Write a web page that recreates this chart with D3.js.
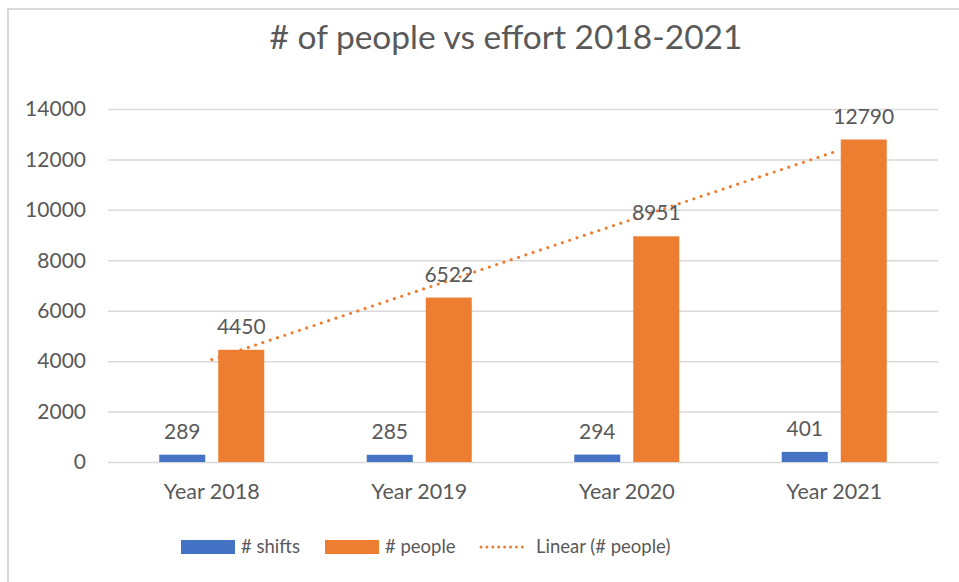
<!DOCTYPE html>
<html>
<head>
<meta charset="utf-8">
<script src="https://cdn.jsdelivr.net/npm/d3@7"></script>
<style>
  body { margin: 0; background: #fff; }
  svg { display: block; font-family: Lato, "Open Sans", sans-serif; }
</style>
</head>
<body>
<svg id="chart"></svg>
<script>
// Data
const categories = ["Year 2018", "Year 2019", "Year 2020", "Year 2021"];
const shifts = [289, 285, 294, 401];
const people = [4450, 6522, 8951, 12790];
const yTicks = [0, 2000, 4000, 6000, 8000, 10000, 12000, 14000];

const width = 959, height = 582;
const margin = { top: 109, right: 21, bottom: 120, left: 108 };
const textColor = "#595959";
const blue = "#4472C4", orange = "#ED7D31";

const svg = d3.select("#chart")
    .attr("width", width)
    .attr("height", height);

// chart border (right/bottom edges fall outside the picture)
svg.append("rect")
    .attr("x", 8).attr("y", 9)
    .attr("width", 960).attr("height", 590)
    .attr("fill", "none")
    .attr("stroke", "#d9d9d9")
    .attr("stroke-width", 2);

// title
svg.append("text")
    .attr("x", 506).attr("y", 49)
    .attr("text-anchor", "middle")
    .style("font-size", "33.5px")
    .style("fill", textColor)
    .text("# of people vs effort 2018-2021");

const x = d3.scaleBand()
    .domain(categories)
    .range([margin.left, width - margin.right]);

const y = d3.scaleLinear()
    .domain([0, 14000])
    .range([height - margin.bottom, margin.top]);

// gridlines + y labels
const yAxis = svg.append("g")
    .attr("transform", `translate(${margin.left},0)`)
    .call(d3.axisLeft(y).tickValues(yTicks).tickSize(-(width - margin.left - margin.right)).tickPadding(22).tickFormat(d3.format("d")));
yAxis.select(".domain").remove();
yAxis.selectAll(".tick line").attr("stroke", "#d9d9d9").attr("stroke-width", 1.5);
yAxis.selectAll(".tick text")
    .style("font-size", "21px")
    .style("fill", textColor)
    .style("font-family", "Lato, sans-serif");

// x labels
const xAxis = svg.append("g")
    .attr("transform", `translate(0,${height - margin.bottom})`)
    .call(d3.axisBottom(x).tickSize(0).tickPadding(22));
xAxis.select(".domain").remove();
xAxis.selectAll(".tick text")
    .style("font-size", "21.5px")
    .style("fill", textColor)
    .style("font-family", "Lato, sans-serif");

// bars
const barW = 46, innerGap = 13;
const series = [
  { name: "# shifts", values: shifts, color: blue, offset: -(barW + innerGap / 2) },
  { name: "# people", values: people, color: orange, offset: innerGap / 2 }
];

// trendline (least squares over category index), behind bars
const n = people.length;
const xs = d3.range(1, n + 1);
const mx = d3.mean(xs), my = d3.mean(people);
const slope = d3.sum(xs, (xi, i) => (xi - mx) * (people[i] - my)) / d3.sum(xs, xi => (xi - mx) ** 2);
const intercept = my - slope * mx;
const trend = xs.map((xi, i) => ({ cx: x(categories[i]) + x.bandwidth() / 2, v: intercept + slope * xi }));

svg.append("path")
    .datum([trend[0], trend[n - 1]])
    .attr("d", d3.line().x(d => d.cx).y(d => y(d.v)))
    .attr("fill", "none")
    .attr("stroke", orange)
    .attr("stroke-width", 3.2)
    .attr("stroke-linecap", "round")
    .attr("stroke-dasharray", "0 7.7");

series.forEach(s => {
  const g = svg.append("g");
  g.selectAll("rect")
    .data(s.values)
    .enter().append("rect")
      .attr("x", (d, i) => x(categories[i]) + x.bandwidth() / 2 + s.offset)
      .attr("y", d => y(d))
      .attr("width", barW)
      .attr("height", d => y(0) - y(d))
      .attr("fill", s.color);
  g.selectAll("text")
    .data(s.values)
    .enter().append("text")
      .attr("x", (d, i) => x(categories[i]) + x.bandwidth() / 2 + s.offset + barW / 2)
      .attr("y", d => y(d) - 16)
      .attr("text-anchor", "middle")
      .style("font-size", "21px")
      .style("fill", textColor)
      .text(d => d);
});

// legend
const legendY = 547;
const legend = svg.append("g");
const items = [
  { label: "# shifts", color: blue, type: "rect", x: 181 },
  { label: "# people", color: orange, type: "rect", x: 325 },
  { label: "Linear (# people)", color: orange, type: "dot", x: 480 }
];
items.forEach(it => {
  if (it.type === "rect") {
    legend.append("rect")
      .attr("x", it.x).attr("y", legendY - 7)
      .attr("width", 54).attr("height", 14)
      .attr("fill", it.color);
  } else {
    legend.append("line")
      .attr("x1", it.x + 1).attr("x2", it.x + 48)
      .attr("y1", legendY).attr("y2", legendY)
      .attr("stroke", it.color)
      .attr("stroke-width", 3)
      .attr("stroke-linecap", "round")
      .attr("stroke-dasharray", "0 5.9");
  }
  legend.append("text")
    .attr("x", it.x + (it.type === "rect" ? 60 : 56))
    .attr("y", legendY)
    .attr("dy", "0.35em")
    .style("font-size", "18.5px")
    .style("fill", textColor)
    .text(it.label);
});
</script>
</body>
</html>
